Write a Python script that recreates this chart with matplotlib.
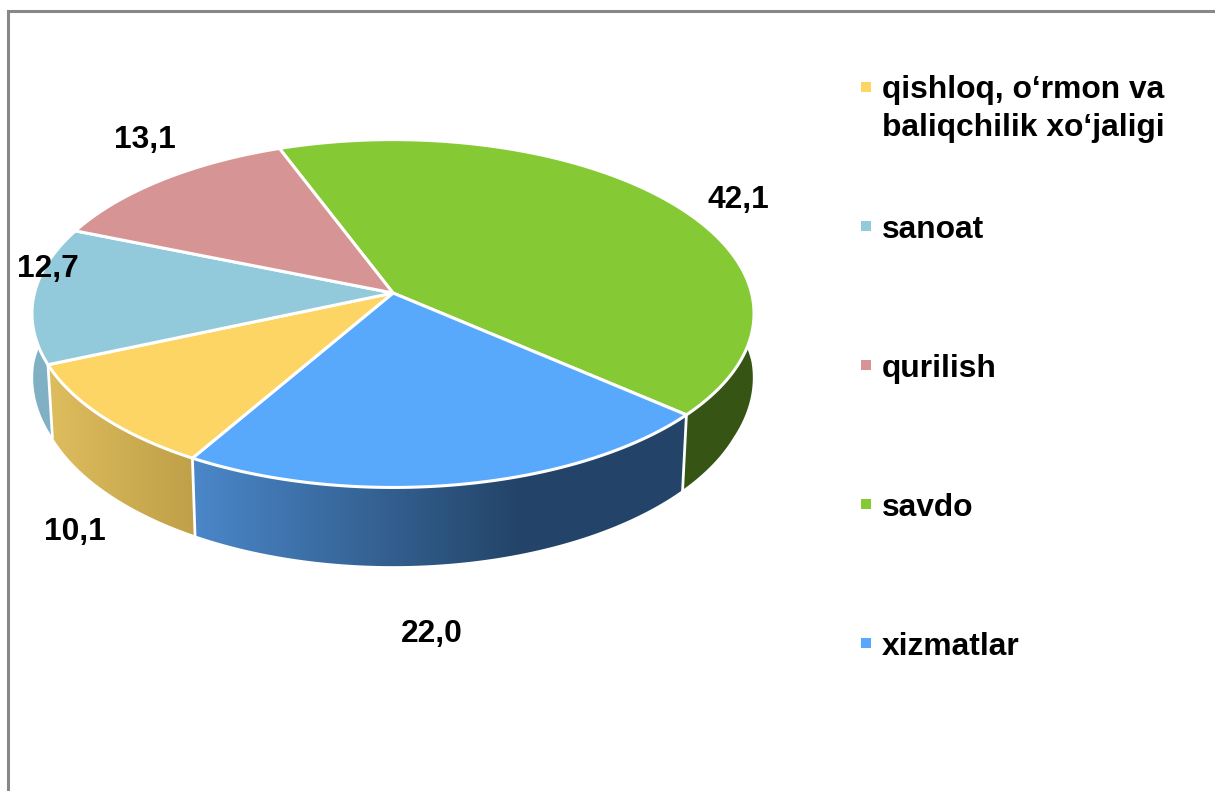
import numpy as np
import matplotlib
matplotlib.use('Agg')
import matplotlib.pyplot as plt
from matplotlib.patches import Polygon, Rectangle
from matplotlib.colors import LinearSegmentedColormap

plt.rcParams['font.family'] = ['Liberation Sans', 'DejaVu Sans']

# ===== data, clockwise from the top of the pie =====
categories = ['savdo', 'xizmatlar', 'qishloq, o\u2018rmon va\nbaliqchilik xo\u2018jaligi', 'sanoat', 'qurilish']
values = [42.1, 22.0, 10.1, 12.7, 13.1]
legend_order = [2, 3, 4, 0, 1]

# ===== style =====
face_colors = ['#85C935', '#58A9FC', '#FCD564', '#92C9DB', '#D79494']
wall_colors = [('#365414', '#365414'), ('#4A86C8', '#234468'), ('#DCBC5C', '#BF9F48'), ('#7FB0C3', '#7FB0C3')]
wall_fade_x = [(684, 753), (198, 520), (53, 198), (33, 53)]
label_pos = [(738, 200), (432, 634), (75, 532), (48, 269), (145, 140)]
legend_baseline = [136, 238, 377, 516, 655]
legend_marker_y = [87, 226, 365, 504, 643]
start_angle = -20.6
font_size = 22.9

# ===== perspective of the disc =====
cx, cy = 393, 293
a, b, k = 358.5, 171.5, 0.118
wall_sy, wall_dy = 1.05, 69


def disc_xy(theta):
    t = np.radians(theta)
    u, v = np.sin(t), -np.cos(t)
    d = 1 - k * v
    return a * u / d, b * v / d, v


def rim_top(theta):
    x, y, v = disc_xy(theta)
    return np.column_stack([cx + x, cy + y])


def rim_bottom(theta):
    x, y, v = disc_xy(theta)
    sx = 1 - 0.013 * np.clip(v / 0.4, 0, 1)  # lower rim pulls in towards the viewer
    return np.column_stack([cx + sx * x, cy + wall_sy * y + wall_dy])


fig = plt.figure(figsize=(12.15, 7.91), dpi=100, facecolor='white')
ax = fig.add_axes([0, 0, 1, 1])

edges = start_angle + np.cumsum([0] + values) * 3.6

# walls, only the ones facing the viewer
wall_ranges = [(75, edges[1]), (edges[1], edges[2]), (edges[2], edges[3]), (edges[3], 300)]
px = np.arange(0, 1215)
for (t0, t1), cols, fade in zip(wall_ranges, wall_colors, wall_fade_x):
    th = np.linspace(t0, t1, 120)
    pts = np.vstack([rim_top(th), rim_bottom(th)[::-1]])
    poly = Polygon(pts, closed=True, facecolor='none', edgecolor='none')
    ax.add_patch(poly)
    cmap = LinearSegmentedColormap.from_list('w', cols)
    grad = np.clip((px - fade[0]) / (fade[1] - fade[0]), 0, 1).reshape(1, -1)
    im = ax.imshow(grad, cmap=cmap, extent=[0, 1215, 600, 100], aspect='auto', zorder=1)
    im.set_clip_path(poly)

# separators between the walls
for e in edges[1:4]:
    p0, p1 = rim_top(np.array([e]))[0], rim_bottom(np.array([e]))[0]
    ax.plot([p0[0], p1[0]], [p0[1], p1[1]], color='white', lw=2, zorder=2)

# top faces
for i, col in enumerate(face_colors):
    th = np.linspace(edges[i], edges[i + 1], 150)
    pts = np.vstack([[cx, cy], rim_top(th)])
    ax.add_patch(Polygon(pts, closed=True, facecolor=col, edgecolor='white', lw=2.2, joinstyle='round', zorder=3))

# value labels
for v, (x, y) in zip(values, label_pos):
    ax.text(x, y, f'{v:.1f}'.replace('.', ','), ha='center', va='center', fontsize=font_size,
            fontweight='bold', color='black', zorder=5)

# legend
for idx, base, my in zip(legend_order, legend_baseline, legend_marker_y):
    ax.add_patch(Rectangle((861, my - 5), 10, 10, facecolor=face_colors[idx], edgecolor='none', zorder=5))
    lines = categories[idx].split('\n')
    for n, line in enumerate(lines):
        ax.text(882, base - 38 * (len(lines) - 1 - n), line, ha='left', va='baseline', fontsize=font_size,
                fontweight='bold', color='black', zorder=5)

# chart frame
ax.plot([8.2, 8.2, 1215], [791, 11, 11], color='#888888', lw=2.2, solid_joinstyle='miter', zorder=6)

ax.set_xlim(0, 1215)
ax.set_ylim(791, 0)
ax.axis('off')
fig.savefig('out.png', dpi=100)
